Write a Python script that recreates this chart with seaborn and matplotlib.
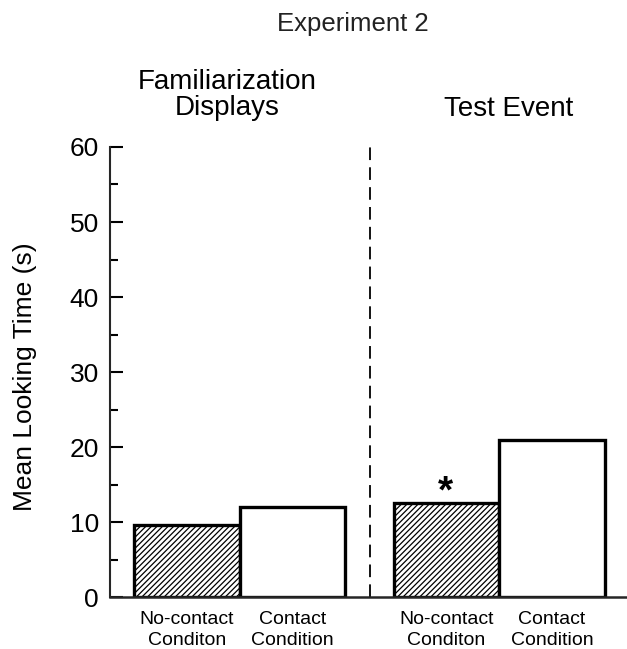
import numpy as np
import pandas as pd
import matplotlib
matplotlib.use("Agg")
import matplotlib.pyplot as plt
import seaborn as sns

# values (mean looking time in seconds)
conditions = ["No-contact\nConditon", "Contact\nCondition", "No-contact\nConditon", "Contact\nCondition"]
phases = ["Familiarization", "Familiarization", "Test", "Test"]
looking_time = [9.6, 12.0, 12.5, 21.0]
positions = [0.0, 1.0, 2.46, 3.46]
hatched = [True, False, True, False]

data = pd.DataFrame({"pos": positions, "time": looking_time, "phase": phases})

sns.set_style("ticks")
plt.rcParams["font.family"] = ["Liberation Sans", "DejaVu Sans"]
plt.rcParams["hatch.linewidth"] = 0.9
plt.rcParams["text.color"] = "black"
plt.rcParams["axes.labelcolor"] = "black"
plt.rcParams["xtick.color"] = "black"
plt.rcParams["ytick.color"] = "black"

fig = plt.figure(figsize=(6.27, 6.49), dpi=100)
ax = fig.add_axes([0.1754, 0.0801, 0.8246, 0.6934])

sns.barplot(data=data, x="pos", y="time", native_scale=True, width=1.0,
            color="white", edgecolor="black", linewidth=2.4, ax=ax)

for bar, h in zip(ax.patches, hatched):
    if h:
        bar.set_hatch("//////")

# significance star over the test no-contact bar
ax.text(positions[2] - 0.01, looking_time[2] - 1.0, "*", ha="center", va="bottom",
        fontsize=28, fontweight="bold")

# dashed divider between the two phases
ax.axvline(1.73, ymin=0, ymax=1, color="black", linestyle=(0, (7, 4)), linewidth=1.3)

ax.set_xlim(-0.73, 4.17)
ax.set_ylim(0, 60)
ax.set_yticks(np.arange(0, 61, 10))
ax.set_yticks(np.arange(5, 60, 10), minor=True)
ax.tick_params(axis="y", which="major", direction="in", length=9, width=1.5, labelsize=19, pad=8)
ax.tick_params(axis="y", which="minor", direction="in", length=6, width=1.5)
ax.set_xticks(positions)
ax.set_xticklabels(conditions, fontsize=14, linespacing=1.35)
ax.tick_params(axis="x", length=0, pad=10)
ax.set_xlabel("")
ax.set_ylabel("Mean Looking Time (s)", fontsize=19)
ax.yaxis.set_label_coords(-0.141, 0.49)

sns.despine(ax=ax, top=True, right=True)
ax.spines["left"].set_linewidth(1.5)
ax.spines["bottom"].set_linewidth(1.8)

fig.text(0.563, 0.963, "Experiment 2", ha="center", va="center", fontsize=18.5, color="#222222")
fig.text(0.363, 0.853, "Familiarization\nDisplays", ha="center", va="center", fontsize=20,
         linespacing=1.0)
fig.text(0.812, 0.832, "Test Event", ha="center", va="center", fontsize=20)

fig.savefig("out.png", dpi=100)
